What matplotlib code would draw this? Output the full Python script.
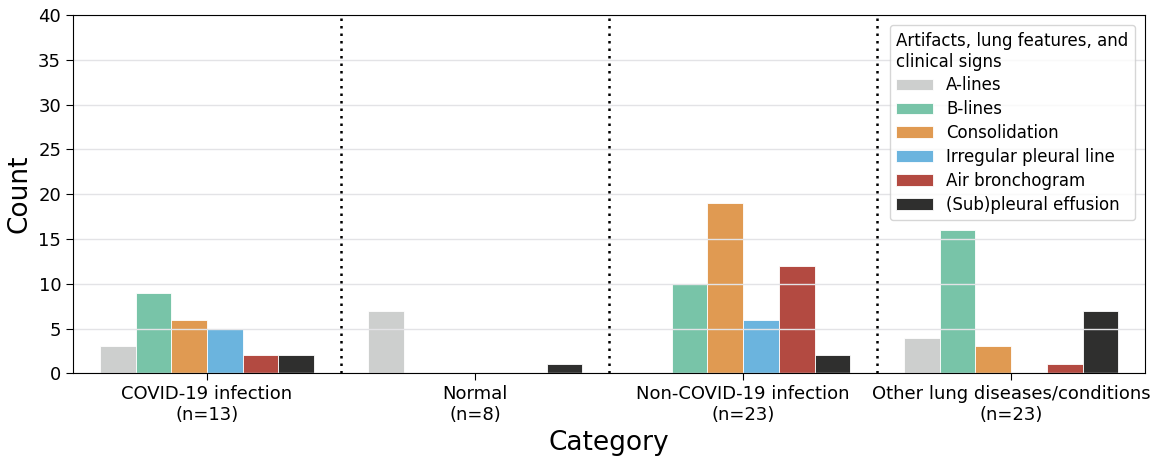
import numpy as np
import matplotlib
matplotlib.use("Agg")
import matplotlib.pyplot as plt

categories = ["COVID-19 infection\n(n=13)", "Normal\n(n=8)",
              "Non-COVID-19 infection\n(n=23)", "Other lung diseases/conditions\n(n=23)"]
features = ["A-lines", "B-lines", "Consolidation", "Irregular pleural line",
            "Air bronchogram", "(Sub)pleural effusion"]
counts = {
    "A-lines": [3, 7, 0, 4],
    "B-lines": [9, 0, 10, 16],
    "Consolidation": [6, 0, 19, 3],
    "Irregular pleural line": [5, 0, 6, 0],
    "Air bronchogram": [2, 0, 12, 1],
    "(Sub)pleural effusion": [2, 1, 2, 7],
}
colors = ["#cdcfce", "#78c4a8", "#e09a52", "#6bb4de", "#b34a41", "#2f2f2e"]

fig, ax = plt.subplots(figsize=(11.58, 4.57), dpi=100)
fig.subplots_adjust(left=0.063, right=0.989, top=0.967, bottom=0.183)

x = np.arange(len(categories))
n = len(features)
width = 0.8 / n
for i, (feat, col) in enumerate(zip(features, colors)):
    offs = -0.4 + width * (i + 0.5)
    ax.bar(x + offs, counts[feat], width=width, color=col, label=feat,
           edgecolor="white", linewidth=0.6, zorder=1)

for b in [0.5, 1.5, 2.5]:
    ax.axvline(b, color="black", linestyle=(0, (1, 2.0)), linewidth=1.8, zorder=3)

ax.set_xlim(-0.5, 3.5)
ax.set_ylim(0, 40)
ax.set_yticks(range(0, 41, 5))
ax.set_xticks(x)
ax.set_xticklabels(categories, fontsize=13)
ax.tick_params(axis="y", labelsize=13)
ax.tick_params(length=5)
ax.yaxis.grid(True, color="#e3e3e6", linewidth=1.0, zorder=2)
ax.set_axisbelow(False)
for sp in ax.spines.values():
    sp.set_zorder(4)
ax.set_xlabel("Category", fontsize=19)
ax.set_ylabel("Count", fontsize=19)

leg = ax.legend(title="Artifacts, lung features, and\nclinical signs", loc="upper right",
                fontsize=12, title_fontsize=12, handlelength=2.2, handleheight=0.7,
                labelspacing=0.35, borderaxespad=0.6)
leg._legend_box.align = "left"
leg.set_zorder(5)

fig.savefig("out.png", dpi=100)
